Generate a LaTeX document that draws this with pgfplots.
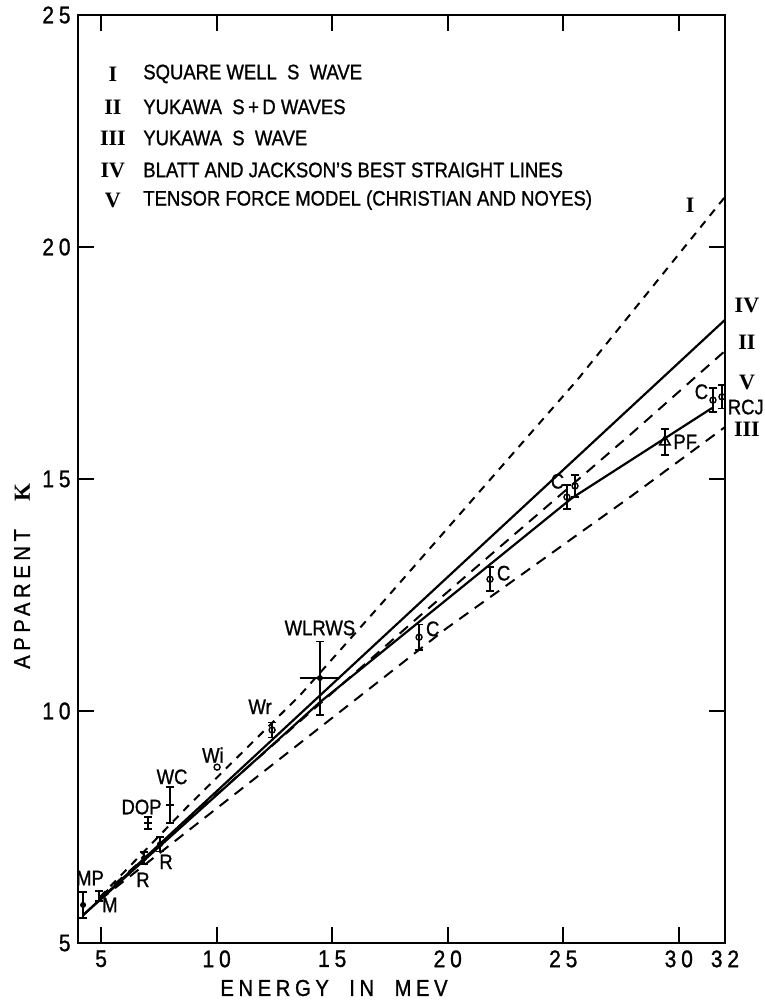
\documentclass[border=0pt]{standalone}
\usepackage{fontspec}
\setmainfont{Liberation Sans}[FakeStretch=0.88,FakeBold=1]
\newfontfamily\spaced{Liberation Sans}[FakeStretch=0.88,LetterSpace=20,FakeBold=1]
\newfontfamily\rom{Liberation Serif}
\usepackage{pgfplots}
\pgfplotsset{compat=1.18}
\pgfplotsset{
  ebar/.style={error bars/.cd, y dir=both, y explicit,
    error bar style={line width=0.8bp},
    error mark options={rotate=90, mark size=2bp, line width=0.8bp}},
  errx/.style={error bars/.cd, x dir=both, x explicit,
    error bar style={line width=0.8bp},
    error mark options={mark size=2bp, line width=0.8bp}},
}
\begin{document}
\fontsize{10.5bp}{12bp}\selectfont
\begin{tikzpicture}
\begin{axis}[
  scale only axis, width=323.5bp, height=464bp,
  xmin=4, xmax=32, ymin=5, ymax=25,
  axis line style={line width=1.3bp},
  xtick={5,10,15,20,25,30,32}, ytick={5,10,15,20,25},
  tick align=inside, major tick length=8bp,
  tick style={line width=0.9bp, black},
  /pgf/number format/assume math mode=true,
  tick label style={font=\spaced\fontsize{12bp}{13bp}\selectfont},
  clip=false,
]
% theoretical and fitted lines
\addplot[black, line width=1bp, dash pattern=on 4bp off 3.5bp] coordinates {(4.95,5.99) (8.72,7.93) (13.61,10.34) (17.20,12.35) (25.60,17.13) (32,21.08)};
\addplot[black, line width=1bp, dash pattern=on 5.5bp off 4bp] coordinates {(4.95,5.99) (18.93,12.11) (27.89,15.95) (32,17.76)};
\addplot[black, line width=1bp, dash pattern=on 5.5bp off 4bp] coordinates {(4.95,5.93) (19.97,11.79) (27.89,14.61) (32,16.12)};
\addplot[black, line width=1.1bp] coordinates {(4.22,5.60) (32,18.43)};
\addplot[black, line width=1.1bp] coordinates {(4.22,5.60) (14.47,10.19) (25.38,14.59) (31.44,16.53)};
% data points
\addplot[black, only marks, mark=*, mark size=1.3bp, ebar] table[y error=e] {
x y e
4.22 5.82 0.28
6.86 6.83 0.13
7.55 7.13 0.16
};
\addplot[black, only marks, mark=*, mark size=0.3bp, ebar] table[y error=e] {
x y e
4.91 6.01 0.11
};
\addplot[black, only marks, mark=-, mark size=2bp, mark options={line width=0.8bp}, ebar] table[y error=e] {
x y e
7.03 7.59 0.13
7.98 7.97 0.39
};
\addplot[black, only marks, mark=o, mark size=1.5bp, mark options={line width=0.7bp}] coordinates {(10.02,8.79)};
\addplot[black, only marks, mark=o, mark size=1.5bp, mark options={line width=0.7bp}, ebar] table[y error=e] {
x y e
12.40 9.59 0.16
18.76 11.59 0.27
21.83 12.84 0.26
25.16 14.61 0.26
25.51 14.85 0.24
31.48 16.70 0.26
31.87 16.77 0.25
};
\addplot[black, only marks, mark=*, mark size=1.2bp, ebar] table[y error=ey] {
x y ex ey
14.47 10.71 0.71 0.79
};
\addplot[black, only marks, mark=*, mark size=1.2bp, errx] table[x error=ex] {
x y ex ey
14.47 10.71 0.71 0.79
};
\addplot[black, only marks, mark=triangle, mark size=3bp, mark options={line width=0.8bp}, ebar] table[y error=e] {
x y e
29.40 15.80 0.28
};
% point labels
\node at (axis cs:4.52,6.40) {MP};
\node at (axis cs:5.38,5.82) {M};
\node at (axis cs:6.81,6.36) {R};
\node at (axis cs:7.81,6.75) {R};
\node at (axis cs:6.75,7.93) {DOP};
\node at (axis cs:8.07,8.58) {WC};
\node at (axis cs:9.84,9.05) {Wi};
\node at (axis cs:11.88,10.09) {Wr};
\node at (axis cs:14.47,11.79) {WLRWS};
\node at (axis cs:19.35,11.77) {C};
\node at (axis cs:22.42,12.97) {C};
\node at (axis cs:24.75,14.95) {C};
\node[anchor=west, inner sep=0pt] at (axis cs:29.75,15.80) {PF};
\node at (axis cs:30.98,16.88) {C};
\node at (axis cs:32.9,16.55) {RCJ};
% curve labels
\node[font=\rom\bfseries\fontsize{11bp}{12bp}\selectfont] at (axis cs:30.49,20.90) {I};
\node[font=\rom\bfseries\fontsize{11bp}{12bp}\selectfont] at (axis cs:32.95,18.75) {IV};
\node[font=\rom\bfseries\fontsize{11bp}{12bp}\selectfont] at (axis cs:32.95,17.95) {II};
\node[font=\rom\bfseries\fontsize{11bp}{12bp}\selectfont] at (axis cs:32.95,17.09) {V};
\node[font=\rom\bfseries\fontsize{11bp}{12bp}\selectfont] at (axis cs:32.95,16.08) {III};
% legend
\node[font=\rom\bfseries\fontsize{11bp}{12bp}\selectfont] at (axis cs:5.51,23.73) {I};
\node[font=\rom\bfseries\fontsize{11bp}{12bp}\selectfont] at (axis cs:5.51,23.02) {II};
\node[font=\rom\bfseries\fontsize{11bp}{12bp}\selectfont] at (axis cs:5.51,22.35) {III};
\node[font=\rom\bfseries\fontsize{11bp}{12bp}\selectfont] at (axis cs:5.51,21.66) {IV};
\node[font=\rom\bfseries\fontsize{11bp}{12bp}\selectfont] at (axis cs:5.51,21.01) {V};
\node[anchor=west, inner sep=0pt] at (axis cs:6.81,23.73) {SQUARE WELL\ \ S\ \ WAVE};
\node[anchor=west, inner sep=0pt] at (axis cs:6.81,23.02) {YUKAWA\ \ S\,+\,D WAVES};
\node[anchor=west, inner sep=0pt] at (axis cs:6.81,22.35) {YUKAWA\ \ S\ \ WAVE};
\node[anchor=west, inner sep=0pt] at (axis cs:6.81,21.66) {BLATT AND JACKSON'S BEST STRAIGHT LINES};
\node[anchor=west, inner sep=0pt] at (axis cs:6.81,21.01) {TENSOR FORCE MODEL (CHRISTIAN AND NOYES)};
% axis titles
\node[font=\spaced\fontsize{11.5bp}{13bp}\selectfont] at (axis cs:15.08,4.03) {ENERGY\ \ IN\ \ MEV};
\node[rotate=90, font=\spaced\fontsize{11.5bp}{13bp}\selectfont] at (axis cs:1.58,12.91) {APPARENT\hspace{14bp}{\rom\bfseries K}};
\end{axis}
\pgfresetboundingbox
\path ([shift={(-39bp,-31bp)}]current axis.south west) rectangle ([shift={(20bp,7.5bp)}]current axis.north east);
\end{tikzpicture}
\end{document}
